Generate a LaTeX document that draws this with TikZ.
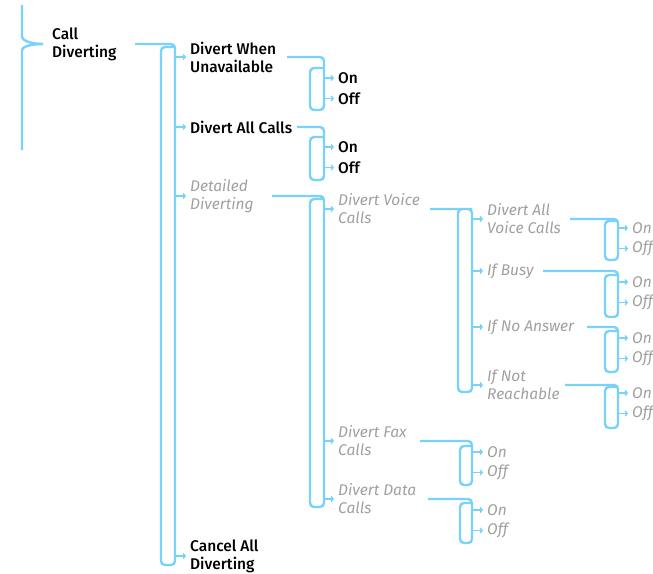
\documentclass[tikz,border=0pt]{standalone}
\usepackage{fontspec}
\setmainfont{Fira Sans}
\newfontfamily\menufont{Fira Sans}[UprightFont=* Medium, ItalicFont=* Italic]
\usetikzlibrary{arrows.meta}

\definecolor{wire}{RGB}{120,210,250}
\definecolor{greyed}{RGB}{160,160,160}

% one level of the menu tree: parent, start x, left x, right x, top y, bottom y
\newcommand{\branch}[6]{%
  \coordinate (#1-s) at (#2,0);
  \coordinate (#1-b) at (#4,#6);
  \draw[wire line] (#1.east -| #1-s) -| (#1-b) -- (#3,#6) -- (#3,#5) -- (#4,#5);
}

\tikzset{
  menu/.style={anchor=west, inner sep=0pt, align=left},
  active/.style={menu, text=black, font=\menufont\fontsize{15.5}{18}\selectfont},
  inactive/.style={menu, text=greyed, font=\menufont\itshape\fontsize{15.5}{18}\selectfont},
  wire line/.style={draw=wire, line width=2.4pt, rounded corners=4pt},
  pointer/.style={draw=wire, line width=1.4pt, -{Straight Barb[length=2pt,width=5pt]}},
}

\begin{document}
\begin{tikzpicture}[x=1pt, y=-1pt]
  \useasboundingbox (0,0) rectangle (653,573);

  % Menu entries
  \node[active] (cd) at (52,44) {Call\\Diverting};
  \node[active] (dwu) at (190,57) {Divert When\\Unavailable};
  \node[active] (dac) at (190,127) {Divert All Calls};
  \node[inactive] (dd) at (190,196) {Detailed\\Diverting};
  \node[active] (cad) at (190,556) {Cancel All\\Diverting};

  \node[inactive] (dvc) at (338,209) {Divert Voice\\Calls};
  \node[inactive] (dfc) at (338,441) {Divert Fax\\Calls};
  \node[inactive] (ddc) at (338,499) {Divert Data\\Calls};

  \node[inactive] (dvac) at (487,219) {Divert All\\Voice Calls};
  \node[inactive] (ib) at (487,271) {If Busy};
  \node[inactive] (ina) at (487,327) {If No Answer};
  \node[inactive] (inr) at (487,385) {If Not\\Reachable};

  % Root bracket
  \draw[wire line] (22,5) -- (22,33)
    .. controls (22,40) and (30,44) .. ([xshift=-9pt]cd.west);
  \draw[wire line] ([xshift=-9pt]cd.west)
    .. controls (30,44) and (22,47) .. (22,54) -- (22,150);

  % Brackets
  \branch{cd}{135}{161}{175}{47}{565}
  \branch{dwu}{287}{310}{324}{68}{110}
  \branch{dac}{297}{310}{324}{137}{180}
  \branch{dd}{272}{310}{324}{199}{507}
  \branch{dvc}{430}{458}{472}{209}{392}
  \branch{dvac}{570}{605}{618}{221}{260}
  \branch{ib}{543}{605}{618}{275}{317}
  \branch{ina}{587}{605}{618}{331}{372}
  \branch{inr}{565}{605}{618}{387}{428}
  \branch{dfc}{420}{460}{472}{446}{485}
  \branch{ddc}{428}{460}{472}{503}{543}

  % Pointers to sub-entries
  \foreach \p/\c in {cd/dwu, cd/dac, cd/dd, cd/cad,
      dd/dvc, dd/dfc, dd/ddc, dvc/dvac, dvc/ib, dvc/ina, dvc/inr}
    \draw[pointer] (\c.west -| \p-b) -- ([xshift=-4pt]\c.west);

  % On / Off settings
  \foreach \p/\x/\y/\s in {dwu/338/78/active, dac/338/147/active,
      dvac/632/228/inactive, ib/632/282/inactive, ina/632/338/inactive,
      inr/632/393/inactive, dfc/487/452/inactive, ddc/487/510/inactive}{
    \node[\s] (\p-on) at (\x,\y) {On};
    \node[\s] (\p-off) at (\x,\y+20.5) {Off};
    \draw[pointer] (\p-on.west -| \p-b) -- ([xshift=-4pt]\p-on.west);
    \draw[pointer] (\p-off.west -| \p-b) -- ([xshift=-4pt]\p-off.west);
  }

\end{tikzpicture}
\end{document}
